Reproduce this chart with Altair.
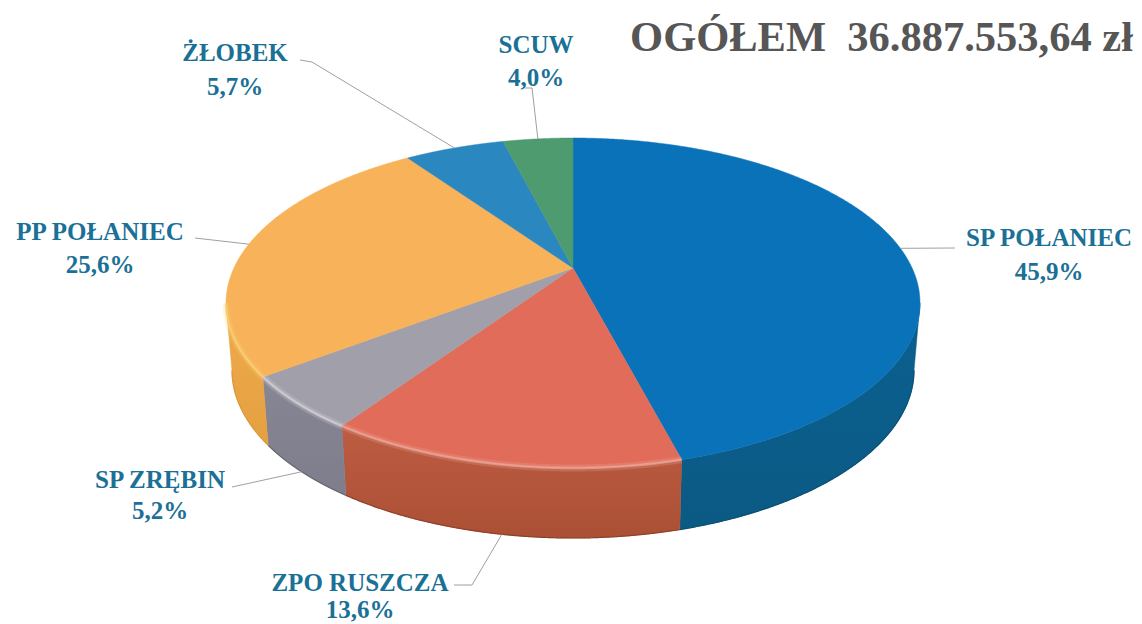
import numpy as np
import pandas as pd
import altair as alt

# ---- data
names = ["SP POŁANIEC", "ZPO RUSZCZA", "SP ZRĘBIN", "PP POŁANIEC", "ŻŁOBEK", "SCUW"]
shares = [45.9, 13.6, 5.2, 25.6, 5.7, 4.0]
share_text = ["45,9%", "13,6%", "5,2%", "25,6%", "5,7%", "4,0%"]
title_text = "OGÓŁEM\u00a0\u00a036.887.553,64 zł"

# ---- styling
top_colors = ["#0a72b8", "#e16c5a", "#a19fa9", "#f7b25a", "#2b87bf", "#4f9b70"]
side_top = ["#0b6090", "#bd5c43", "#878694", "#eeaa4c", None, None]
side_bot = ["#0b5a84", "#ab5035", "#7d7d8b", "#e5a040", None, None]
edge_colors = ["#0a4f75", "#8f4028", "#66666f", "#d9983c", None, None]
rim_colors = [None, "#f0b3a5", "#dddbe0", "#fbd77a", None, None]
label_color = "#1b7096"
leader_color = "#a0a0a0"

# ---- layout (pixels on the page)
W, H = 1126, 616
CX, CY, RX, RY = 573, 303, 347, 165   # ellipse of the top face
BOT_RX, BOT_RY, BOT_CY = 341, 168, 370  # ellipse of the bottom edge
APEX_SHIFT = 0.212                    # perspective shift of the pie centre
label_xy = [(1049, 238, 272), (360, 583, 610), (160, 480, 511),
            (100, 232, 265), (235, 53, 87), (536, 45, 78)]
elbows = [[(955, 248)], [(472, 585), (454, 585)], [(232, 487)],
          [(195, 238)], [(312, 62), (300, 60)], [(532, 88), (525, 88)]]
on_bottom_edge = [False, True, True, False, False, False]


def to_u(px):
    return (px - CX) / RX


def to_v(py):
    return (CY - py) / RY


xscale = alt.Scale(domain=[to_u(8), to_u(8 + W)], range=[0, W], nice=False, zero=False)
yscale = alt.Scale(domain=[to_v(8 + H), to_v(8)], range=[H, 0], nice=False, zero=False)


def project(theta_deg):
    """Circle angle (clockwise from top) to the tilted ellipse, in unit coordinates."""
    t = np.radians(theta_deg)
    u, v = np.sin(t), np.cos(t)
    d = 1 + APEX_SHIFT * v
    return u * np.sqrt(1 - APEX_SHIFT ** 2) / d, (v + APEX_SHIFT) / d


def drop(u, v):
    """Same rim point on the bottom edge of the disc."""
    return u * BOT_RX / RX, v * BOT_RY / RY + (CY - BOT_CY) / RY


def enc():
    return dict(
        x=alt.X("x:Q", scale=xscale, axis=None),
        y=alt.Y("y:Q", scale=yscale, axis=None),
        order=alt.Order("o:Q"),
    )


def frame(us, vs):
    return pd.DataFrame({"x": us, "y": vs, "o": np.arange(len(us))})


bounds = np.concatenate([[0], np.cumsum(shares)]) * 360 / sum(shares)
apex_u, apex_v = 0.0, APEX_SHIFT

side_layers, rim_layers, top_layers = [], [], []
for i in range(len(names)):
    th = np.linspace(bounds[i], bounds[i + 1], 400)
    u, v = project(th)
    # top face wedge
    df = frame(np.r_[apex_u, u, apex_u], np.r_[apex_v, v, apex_v])
    top_layers.append(
        alt.Chart(df).mark_line(fill=top_colors[i], stroke=top_colors[i], strokeWidth=0.5).encode(**enc())
    )
    # visible side wall
    mask = v <= 0
    if side_top[i] and mask.any():
        us, vs = u[mask], v[mask]
        bu, bv = drop(us, vs)
        df = frame(np.r_[us, bu[::-1], us[0]], np.r_[vs, bv[::-1], vs[0]])
        grad = alt.LinearGradient(
            gradient="linear", x1=0, y1=0, x2=0, y2=1,
            stops=[alt.GradientStop(color=side_top[i], offset=0),
                   alt.GradientStop(color=side_bot[i], offset=1)],
        )
        side_layers.append(
            alt.Chart(df).mark_line(fill=grad, stroke=side_bot[i], strokeWidth=0.5).encode(**enc())
        )
        df = frame(bu, bv)
        side_layers.append(
            alt.Chart(df).mark_line(stroke=edge_colors[i], strokeWidth=1.2).encode(**enc())
        )
        if rim_colors[i]:
            df = frame(us, vs)
            rim_layers.append(
                alt.Chart(df).mark_line(stroke=rim_colors[i], strokeWidth=7, opacity=0.22).encode(**enc())
            )
            rim_layers.append(
                alt.Chart(df).mark_line(stroke=rim_colors[i], strokeWidth=2.5, opacity=0.6).encode(**enc())
            )

# leader lines start on the rim at the middle of each slice
leader_rows = []
for i in range(len(names)):
    mu, mv = project((bounds[i] + bounds[i + 1]) / 2)
    if on_bottom_edge[i]:
        mu, mv = drop(mu, mv)
    pts = [(mu, mv)] + [(to_u(a), to_v(b)) for a, b in elbows[i]]
    for k, (a, b) in enumerate(pts):
        leader_rows.append({"x": a, "y": b, "o": k, "s": names[i]})
leaders = alt.Chart(pd.DataFrame(leader_rows)).mark_line(stroke=leader_color, strokeWidth=1).encode(
    **enc(), detail="s:N",
)

label_rows = []
for i in range(len(names)):
    lx, y1, y2 = label_xy[i]
    label_rows.append({"x": to_u(lx), "y": to_v(y1), "t": names[i]})
    label_rows.append({"x": to_u(lx), "y": to_v(y2), "t": share_text[i]})
labels = alt.Chart(pd.DataFrame(label_rows)).mark_text(
    font="Liberation Serif", fontWeight="bold", fontSize=25, color=label_color,
    align="center", baseline="middle",
).encode(
    x=alt.X("x:Q", scale=xscale, axis=None),
    y=alt.Y("y:Q", scale=yscale, axis=None),
    text="t:N",
)

heading = alt.Chart(pd.DataFrame({"x": [to_u(1133)], "y": [to_v(38)], "t": [title_text]})).mark_text(
    font="Liberation Serif", fontWeight="bold", fontSize=42.5, color="#565656",
    align="right", baseline="middle",
).encode(
    x=alt.X("x:Q", scale=xscale, axis=None),
    y=alt.Y("y:Q", scale=yscale, axis=None),
    text="t:N",
)

chart = alt.layer(*side_layers, *top_layers, *rim_layers, leaders, labels, heading).properties(
    width=W, height=H, padding=0, autosize=alt.AutoSizeParams(type="none"),
    background="white",
).configure_view(stroke=None)

chart.save("out.html", embed_options={"renderer": "svg", "actions": False})
